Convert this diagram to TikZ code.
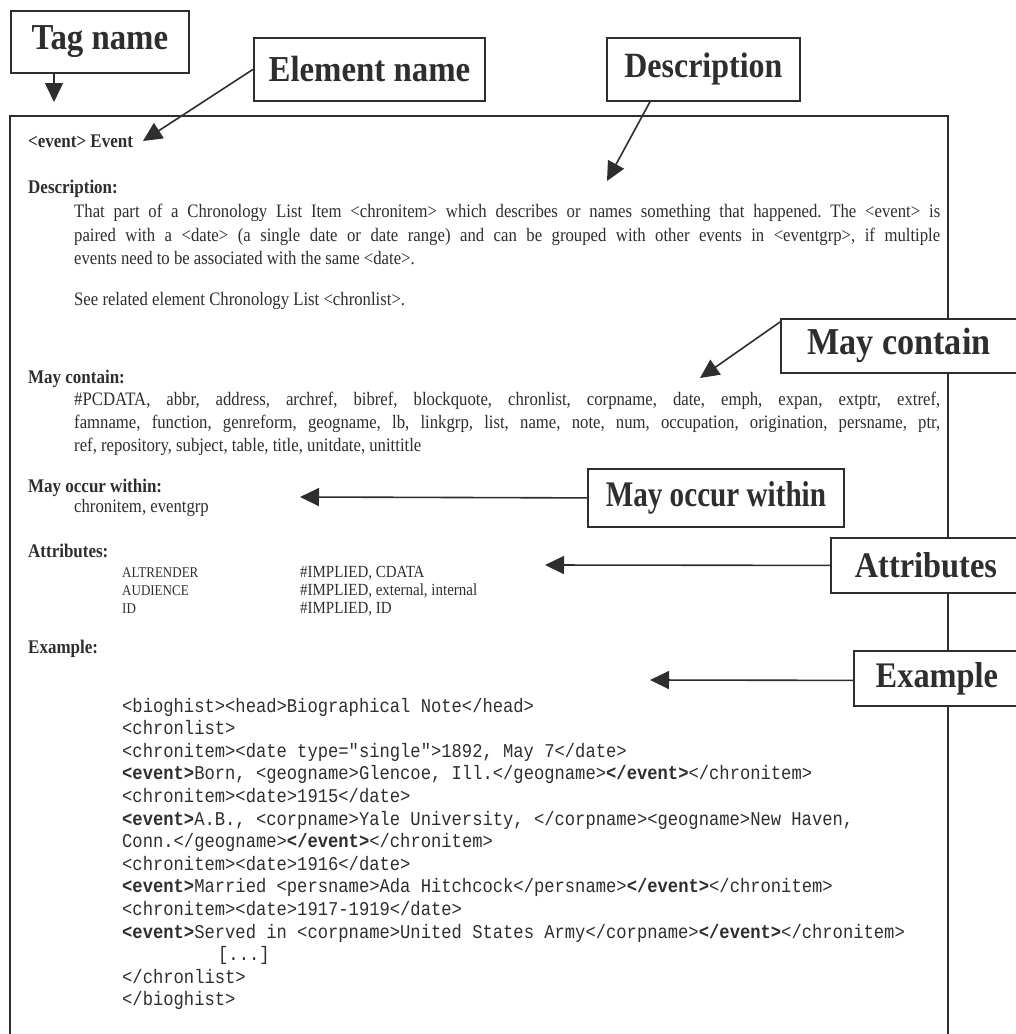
\documentclass[tikz,border=0pt]{standalone}
\usepackage{graphicx}
\usepackage{fontspec}
\setmainfont{Liberation Serif}
\setmonofont{Liberation Mono}
\newfontfamily\cserif[FakeStretch=0.88]{Liberation Serif}
\newfontfamily\cmono[FakeStretch=0.88]{Liberation Mono}
\newfontfamily\lblserif[FakeStretch=0.9]{Liberation Serif}
\usetikzlibrary{arrows.meta}
\definecolor{ink}{rgb}{0.18,0.18,0.18}
\frenchspacing
\newcommand{\lbl}[1]{\lblserif\fontsize{#1}{#1}\selectfont\bfseries}
\newcommand{\bodyf}{\cserif\fontsize{19}{22}\selectfont}
\newcommand{\headf}{\cserif\fontsize{19.3}{22}\selectfont\bfseries}
\newcommand{\codef}{\cmono\fontsize{19.5}{22}\selectfont}
\newcommand{\jline}[1]{\makebox[866pt][s]{#1}}
\begin{document}
\begin{tikzpicture}[x=1pt,y=-1pt,
  callout/.style={draw=ink, line width=1.8pt, fill=white, text=ink, inner sep=0pt, anchor=north west},
  arr/.style={draw=ink, line width=1.6pt, -{Triangle[length=19pt,width=18pt]}},
  txt/.style={anchor=base west, inner sep=0pt, text=ink, font=\bodyf},
  vtxt/.style={anchor=base west, inner sep=0pt, text=ink, font=\cserif\fontsize{17}{20}\selectfont},
  hd/.style={anchor=base west, inner sep=0pt, text=ink, font=\headf},
  code/.style={anchor=base west, inner sep=0pt, text=ink, font=\codef},
  attn/.style={anchor=base west, inner sep=0pt, text=ink, font=\cserif\fontsize{14.8}{17}\selectfont}
]
\useasboundingbox (0,0) rectangle (1016,1034);
\fill[white] (0,0) rectangle (1016,1034);

% main frame (open at the bottom)
\draw[ink, line width=1.5pt] (10,1040) -- (10,116) -- (948,116) -- (948,1040);

% callout boxes
\node[callout, minimum width=178pt, minimum height=62pt, font=\lbl{36.5}] (tag) at (10,10) {Tag name};
\node[callout, minimum width=231pt, minimum height=63pt, font=\lbl{36.5}] (elem) at (253,37) {Element name};
\node[callout, minimum width=193pt, minimum height=63pt, font=\lbl{35.5}] (desc) at (606,37) {Description};
\node[callout, minimum width=236pt, minimum height=54pt, font=\lbl{38}] (mc) at (780,318) {May contain};
\node[callout, minimum width=256pt, minimum height=58pt, font=\lbl{36}] (occ) at (587,468) {\scalebox{0.9}[1]{May occur within}};
\node[callout, minimum width=190pt, minimum height=55pt, font=\lbl{36}] (attr) at (830,537) {Attributes};
\node[callout, minimum width=166pt, minimum height=55pt, font=\lbl{36}] (ex) at (853,650) {Example};

% arrow targets
\coordinate (tagT) at (54,102);
\coordinate (elemT) at (143,141);
\coordinate (descT) at (607,181);
\coordinate (mcT) at (700,378);
\coordinate (occT) at (300,497);
\coordinate (attrT) at (545,565);
\coordinate (exT) at (650,680);

\draw[arr] ([xshift=44pt]tag.south west) -- (tagT);
\draw[arr] (elem.west) -- (elemT);
\draw[arr] ([xshift=44pt]desc.south west) -- (descT);
\draw[arr] ([yshift=-4pt]mc.north west) -- (mcT);
\draw[arr] (occ.west) -- (occT);
\draw[arr] (attr.west) -- (attrT);
\draw[arr] ([yshift=-2pt]ex.west) -- (exT);

% body text
\node[hd] (t0) at (28,147) {<event> Event};
\node[hd] (h1) at (28,193) {Description:};
\node[txt] (d1) at (74,217) {\jline{That part of a Chronology List Item <chronitem> which describes or names something that happened. The <event> is}};
\node[txt] (d2) at (74,241) {\jline{paired with a <date> (a single date or date range) and can be grouped with other events in <eventgrp>, if multiple}};
\node[txt] (d3) at (74,264) {events need to be associated with the same <date>.};
\node[txt] (d4) at (74,305) {See related element Chronology List <chronlist>.};

\node[hd] (h2) at (28,383) {May contain:};
\node[txt] (m1) at (74,405) {\jline{\#PCDATA, abbr, address, archref, bibref, blockquote, chronlist, corpname, date, emph, expan, extptr, extref,}};
\node[txt] (m2) at (74,428) {\jline{famname, function, genreform, geogname, lb, linkgrp, list, name, note, num, occupation, origination, persname, ptr,}};
\node[txt] (m3) at (74,451) {ref, repository, subject, table, title, unitdate, unittitle};

\node[hd] (h3) at (28,492) {May occur within:};
\node[txt] (o1) at (74,512) {chronitem, eventgrp};

\node[hd] (h4) at (28,557) {Attributes:};
\node[attn] (a1) at (122,577) {ALTRENDER};
\node[attn] (a2) at (122,595) {AUDIENCE};
\node[attn] (a3) at (122,613) {ID};
\node[vtxt] (v1) at (300,577) {\#IMPLIED, CDATA};
\node[vtxt] (v2) at (300,595) {\#IMPLIED, external, internal};
\node[vtxt] (v3) at (300,613) {\#IMPLIED, ID};

\node[hd] (h5) at (28,653) {Example:};

\node[code] (c0) at (122,712.0) {<bioghist><head>Biographical Note</head>};
\node[code] (c1) at (122,734.6) {<chronlist>};
\node[code] (c2) at (122,757.2) {<chronitem><date type="single">1892, May 7</date>};
\node[code] (c3) at (122,779.8) {\textbf{<event>}Born, <geogname>Glencoe, Ill.</geogname>\textbf{</event>}</chronitem>};
\node[code] (c4) at (122,802.4) {<chronitem><date>1915</date>};
\node[code] (c5) at (122,825.0) {\textbf{<event>}A.B., <corpname>Yale University, </corpname><geogname>New Haven,};
\node[code] (c6) at (122,847.6) {Conn.</geogname>\textbf{</event>}</chronitem>};
\node[code] (c7) at (122,870.2) {<chronitem><date>1916</date>};
\node[code] (c8) at (122,892.8) {\textbf{<event>}Married <persname>Ada Hitchcock</persname>\textbf{</event>}</chronitem>};
\node[code] (c9) at (122,915.4) {<chronitem><date>1917-1919</date>};
\node[code] (c10) at (122,938.0) {\textbf{<event>}Served in <corpname>United States Army</corpname>\textbf{</event>}</chronitem>};
\node[code] (c11) at (218,960.6) {[...]};
\node[code] (c12) at (122,983.2) {</chronlist>};
\node[code] (c13) at (122,1005.8) {</bioghist>};
\end{tikzpicture}
\end{document}
